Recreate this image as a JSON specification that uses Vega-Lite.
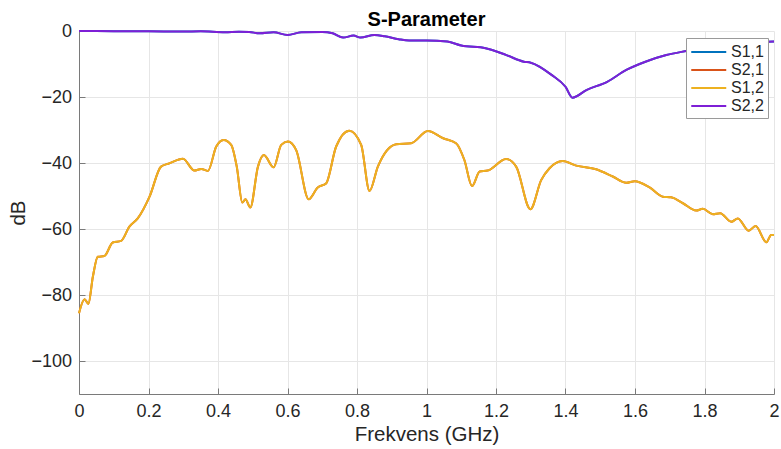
{
  "$schema": "https://vega.github.io/schema/vega-lite/v6.json",
  "width": 695,
  "height": 363,
  "autosize": {"type": "none"},
  "padding": {"left": 79, "top": 31, "right": 7, "bottom": 55},
  "background": "white",
  "title": {
    "text": "S-Parameter",
    "font": "Liberation Sans",
    "fontSize": 20,
    "fontWeight": "bold",
    "color": "#000000",
    "offset": -8
  },
  "config": {
    "view": {"stroke": null},
    "font": "Liberation Sans",
    "axis": {
      "grid": true,
      "gridColor": "#e6e6e6",
      "gridWidth": 1,
      "domainColor": "#7a7a7a",
      "domainWidth": 1,
      "tickColor": "#7a7a7a",
      "tickSize": -6,
      "labelFlush": false,
      "labelFont": "Liberation Sans",
      "labelFontSize": 18,
      "labelColor": "#262626",
      "titleFont": "Liberation Sans",
      "titleFontSize": 20.5,
      "titleFontWeight": "normal",
      "titleColor": "#262626"
    },
    "legend": {
      "orient": "none",
      "legendX": 607,
      "legendY": 7,
      "fillColor": "white",
      "strokeColor": "#9a9a9a",
      "padding": 4,
      "symbolType": "M-1,0H3",
      "symbolSize": 306,
      "symbolStrokeWidth": 2,
      "labelFont": "Liberation Sans",
      "labelFontSize": 16,
      "labelColor": "#262626",
      "labelOffset": 21,
      "rowPadding": 0
    }
  },
  "datasets": {
    "reflection": [
      {"f": 0.0, "dB": 0.0},
      {"f": 0.1, "dB": -0.05},
      {"f": 0.2, "dB": -0.1},
      {"f": 0.3, "dB": -0.15},
      {"f": 0.35, "dB": -0.1},
      {"f": 0.42, "dB": -0.4},
      {"f": 0.46, "dB": -0.2},
      {"f": 0.49, "dB": -0.3},
      {"f": 0.52, "dB": -0.7},
      {"f": 0.56, "dB": -0.4},
      {"f": 0.6, "dB": -1.2},
      {"f": 0.64, "dB": -0.4},
      {"f": 0.7, "dB": -0.3},
      {"f": 0.73, "dB": -0.7},
      {"f": 0.76, "dB": -2.0},
      {"f": 0.79, "dB": -1.4},
      {"f": 0.81, "dB": -2.0},
      {"f": 0.85, "dB": -1.2},
      {"f": 0.88, "dB": -1.6},
      {"f": 0.92, "dB": -2.5},
      {"f": 0.95, "dB": -2.9},
      {"f": 1.0, "dB": -2.9},
      {"f": 1.06, "dB": -3.2},
      {"f": 1.1, "dB": -4.4},
      {"f": 1.17, "dB": -5.2},
      {"f": 1.23, "dB": -7.3},
      {"f": 1.28, "dB": -9.3},
      {"f": 1.3, "dB": -9.6},
      {"f": 1.36, "dB": -13.3},
      {"f": 1.4, "dB": -16.9},
      {"f": 1.42, "dB": -20.2},
      {"f": 1.46, "dB": -17.9},
      {"f": 1.52, "dB": -15.4},
      {"f": 1.575, "dB": -11.8},
      {"f": 1.63, "dB": -9.3},
      {"f": 1.69, "dB": -7.3},
      {"f": 1.75, "dB": -6.0},
      {"f": 1.8, "dB": -5.0},
      {"f": 1.85, "dB": -4.3},
      {"f": 1.9, "dB": -3.8},
      {"f": 1.95, "dB": -3.4},
      {"f": 2.0, "dB": -3.2}
    ],
    "transmission": [
      {"f": 0.0, "dB": -85.5},
      {"f": 0.016, "dB": -81.3},
      {"f": 0.027, "dB": -82.7},
      {"f": 0.04, "dB": -74.4},
      {"f": 0.054, "dB": -68.4},
      {"f": 0.073, "dB": -68.2},
      {"f": 0.097, "dB": -64.1},
      {"f": 0.121, "dB": -63.6},
      {"f": 0.145, "dB": -59.3},
      {"f": 0.169, "dB": -56.8},
      {"f": 0.203, "dB": -50.2},
      {"f": 0.236, "dB": -41.1},
      {"f": 0.26, "dB": -40.1},
      {"f": 0.299, "dB": -38.7},
      {"f": 0.332, "dB": -42.3},
      {"f": 0.352, "dB": -41.8},
      {"f": 0.371, "dB": -42.4},
      {"f": 0.395, "dB": -35.0},
      {"f": 0.416, "dB": -33.0},
      {"f": 0.438, "dB": -34.5},
      {"f": 0.454, "dB": -41.1},
      {"f": 0.47, "dB": -52.0},
      {"f": 0.479, "dB": -51.0},
      {"f": 0.493, "dB": -53.5},
      {"f": 0.515, "dB": -41.1},
      {"f": 0.532, "dB": -37.6},
      {"f": 0.56, "dB": -41.3},
      {"f": 0.582, "dB": -34.5},
      {"f": 0.601, "dB": -33.5},
      {"f": 0.625, "dB": -36.1},
      {"f": 0.661, "dB": -51.0},
      {"f": 0.687, "dB": -47.4},
      {"f": 0.711, "dB": -46.2},
      {"f": 0.74, "dB": -35.0},
      {"f": 0.778, "dB": -30.2},
      {"f": 0.812, "dB": -34.5},
      {"f": 0.836, "dB": -48.5},
      {"f": 0.86, "dB": -41.1},
      {"f": 0.913, "dB": -34.3},
      {"f": 0.956, "dB": -34.0},
      {"f": 1.004, "dB": -30.3},
      {"f": 1.048, "dB": -32.5},
      {"f": 1.085, "dB": -34.0},
      {"f": 1.109, "dB": -39.1},
      {"f": 1.131, "dB": -47.0},
      {"f": 1.153, "dB": -42.6},
      {"f": 1.176, "dB": -42.3},
      {"f": 1.229, "dB": -38.8},
      {"f": 1.258, "dB": -41.1},
      {"f": 1.299, "dB": -54.0},
      {"f": 1.33, "dB": -45.2},
      {"f": 1.354, "dB": -41.6},
      {"f": 1.392, "dB": -39.4},
      {"f": 1.431, "dB": -40.8},
      {"f": 1.488, "dB": -41.9},
      {"f": 1.536, "dB": -44.1},
      {"f": 1.575, "dB": -46.0},
      {"f": 1.599, "dB": -45.5},
      {"f": 1.642, "dB": -47.4},
      {"f": 1.68, "dB": -50.2},
      {"f": 1.704, "dB": -50.4},
      {"f": 1.738, "dB": -52.2},
      {"f": 1.776, "dB": -54.4},
      {"f": 1.795, "dB": -53.9},
      {"f": 1.824, "dB": -55.5},
      {"f": 1.845, "dB": -55.2},
      {"f": 1.877, "dB": -57.8},
      {"f": 1.896, "dB": -56.8},
      {"f": 1.927, "dB": -60.5},
      {"f": 1.947, "dB": -59.1},
      {"f": 1.978, "dB": -64.0},
      {"f": 1.992, "dB": -61.8},
      {"f": 2.0, "dB": -61.8}
    ]
  },
  "encoding": {
    "x": {
      "field": "f",
      "type": "quantitative",
      "scale": {"domain": [0, 2], "nice": false, "zero": false},
      "axis": {
        "title": "Frekvens (GHz)",
        "values": [0, 0.2, 0.4, 0.6, 0.8, 1, 1.2, 1.4, 1.6, 1.8, 2],
        "format": "~g",
        "labelPadding": 14.5,
        "titlePadding": 4
      }
    },
    "y": {
      "field": "dB",
      "type": "quantitative",
      "scale": {"domain": [-110, 0], "nice": false, "zero": false},
      "axis": {
        "title": "dB",
        "values": [-100, -80, -60, -40, -20, 0],
        "labelPadding": 13.5,
        "titlePadding": 2
      }
    }
  },
  "layer": [
    {
      "data": {"name": "reflection"},
      "mark": {"type": "line", "strokeWidth": 2, "interpolate": "monotone"},
      "encoding": {
        "color": {
          "datum": "S1,1",
          "type": "nominal",
          "scale": {
            "domain": ["S1,1", "S2,1", "S1,2", "S2,2"],
            "range": ["#0072BD", "#D95319", "#EDB120", "#7E1FD6"]
          },
          "legend": {"title": null}
        }
      }
    },
    {
      "data": {"name": "transmission"},
      "mark": {"type": "line", "strokeWidth": 2, "interpolate": "monotone"},
      "encoding": {"color": {"datum": "S2,1", "type": "nominal"}}
    },
    {
      "data": {"name": "transmission"},
      "mark": {"type": "line", "strokeWidth": 2, "interpolate": "monotone"},
      "encoding": {"color": {"datum": "S1,2", "type": "nominal"}}
    },
    {
      "data": {"name": "reflection"},
      "mark": {"type": "line", "strokeWidth": 2, "interpolate": "monotone"},
      "encoding": {"color": {"datum": "S2,2", "type": "nominal"}}
    }
  ]
}
